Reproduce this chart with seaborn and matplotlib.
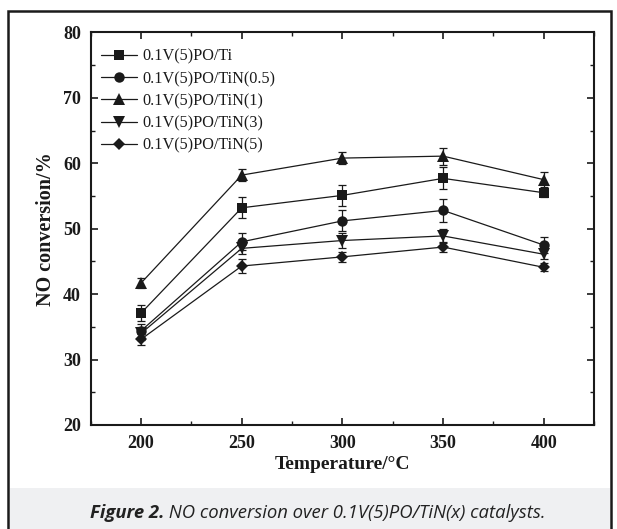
import matplotlib
matplotlib.use("Agg")
import matplotlib.pyplot as plt
from matplotlib.patches import Rectangle
from matplotlib.ticker import MultipleLocator
import seaborn as sns
import pandas as pd

# NO conversion (%) over 0.1V(5)PO/TiN(x) catalysts
temperature = [200, 250, 300, 350, 400]
series_names = ["0.1V(5)PO/Ti", "0.1V(5)PO/TiN(0.5)", "0.1V(5)PO/TiN(1)",
                "0.1V(5)PO/TiN(3)", "0.1V(5)PO/TiN(5)"]
conv_ti = [37.1, 53.2, 55.1, 57.7, 55.5]
conv_tin05 = [34.4, 48.0, 51.2, 52.8, 47.5]
conv_tin1 = [41.7, 58.2, 60.8, 61.1, 57.5]
conv_tin3 = [34.0, 47.0, 48.2, 48.9, 46.1]
conv_tin5 = [33.1, 44.3, 45.7, 47.2, 44.1]
err_ti = [1.2, 1.6, 1.6, 1.7, 0.6]
err_tin05 = [1.0, 1.3, 1.6, 1.7, 1.2]
err_tin1 = [0.7, 0.9, 0.9, 1.3, 1.1]
err_tin3 = [1.0, 0.8, 1.1, 1.1, 0.8]
err_tin5 = [0.8, 1.0, 0.8, 0.8, 0.6]

values = [conv_ti, conv_tin05, conv_tin1, conv_tin3, conv_tin5]
errors = [err_ti, err_tin05, err_tin1, err_tin3, err_tin5]
markers = ["s", "o", "^", "v", "D"]
msizes = [7, 7.5, 8, 8, 6.5]

sns.set_theme(style="ticks")
plt.rcParams["font.family"] = ["Liberation Serif", "DejaVu Serif"]

fig = plt.figure(figsize=(6.17, 5.29), dpi=100)
ax = fig.add_axes([0.147, 0.1966, 0.816, 0.742])

ink = "#1a1a1a"
for name, vals, errs, mk, ms in zip(series_names, values, errors, markers, msizes):
    df = pd.DataFrame({"Temperature": temperature, "Conversion": vals})
    sns.lineplot(data=df, x="Temperature", y="Conversion", ax=ax, color=ink,
                 marker=mk, markersize=ms, markeredgewidth=0, linewidth=0.9,
                 label=name)
    ax.errorbar(temperature, vals, yerr=errs, fmt="none", ecolor=ink,
                elinewidth=0.9, capsize=3.2, capthick=0.9, zorder=1)

ax.set_xlim(175, 425)
ax.set_ylim(20, 80)
ax.xaxis.set_major_locator(MultipleLocator(50))
ax.xaxis.set_minor_locator(MultipleLocator(25))
ax.yaxis.set_major_locator(MultipleLocator(10))
ax.yaxis.set_minor_locator(MultipleLocator(5))
ax.tick_params(which="both", direction="in", top=True, right=True,
               labeltop=False, labelright=False, color=ink)
ax.tick_params(which="major", length=5, width=1.2, pad=7)
ax.tick_params(which="minor", length=3, width=1.0)
for lab in ax.get_xticklabels() + ax.get_yticklabels():
    lab.set_fontweight("bold")
    lab.set_fontsize(13)
    lab.set_color(ink)
for sp in ax.spines.values():
    sp.set_linewidth(1.5)
    sp.set_color(ink)

ax.set_xlabel("Temperature/\u00b0C", fontsize=14, fontweight="bold", color=ink, labelpad=3)
ax.set_ylabel("NO conversion/%", fontsize=14.5, fontweight="bold", color=ink, labelpad=5)

leg = ax.legend(loc="upper left", bbox_to_anchor=(-0.011, 1.0), frameon=False,
                fontsize=11.7, handlelength=2.2, handletextpad=0.3,
                labelspacing=0.38, borderaxespad=0.6)
for t in leg.get_texts():
    t.set_color(ink)

# Caption panel inside an outer border
fig.patches.append(Rectangle((9.5 / 617, 0), 600 / 617, 41 / 529,
                             transform=fig.transFigure, facecolor="#eff0f2",
                             edgecolor="none", zorder=0))
fig.patches.append(Rectangle((8 / 617, -0.01), 603 / 617, (529 - 11) / 529 + 0.01,
                             transform=fig.transFigure, facecolor="none",
                             edgecolor=ink, linewidth=1.8, zorder=1))

# Caption: bold-italic lead-in followed by italic text, centred as a whole
cap_y = 1 - 513 / 529
cap_cx = 318 / 617
renderer = fig.canvas.get_renderer()
lead = fig.text(0, cap_y, "Figure 2.", fontsize=13.3, fontstyle="italic",
                fontweight="bold", family="Open Sans", color="#222222",
                va="center", ha="left")
rest = fig.text(0, cap_y, " NO conversion over 0.1V(5)PO/TiN(x) catalysts.",
                fontsize=13.3, fontstyle="italic", family="Open Sans",
                color="#222222", va="center", ha="left")
w1 = lead.get_window_extent(renderer).width / fig.bbox.width
w2 = rest.get_window_extent(renderer).width / fig.bbox.width
x0 = cap_cx - (w1 + w2) / 2
lead.set_x(x0)
rest.set_x(x0 + w1)

fig.savefig("out.png", dpi=100)
